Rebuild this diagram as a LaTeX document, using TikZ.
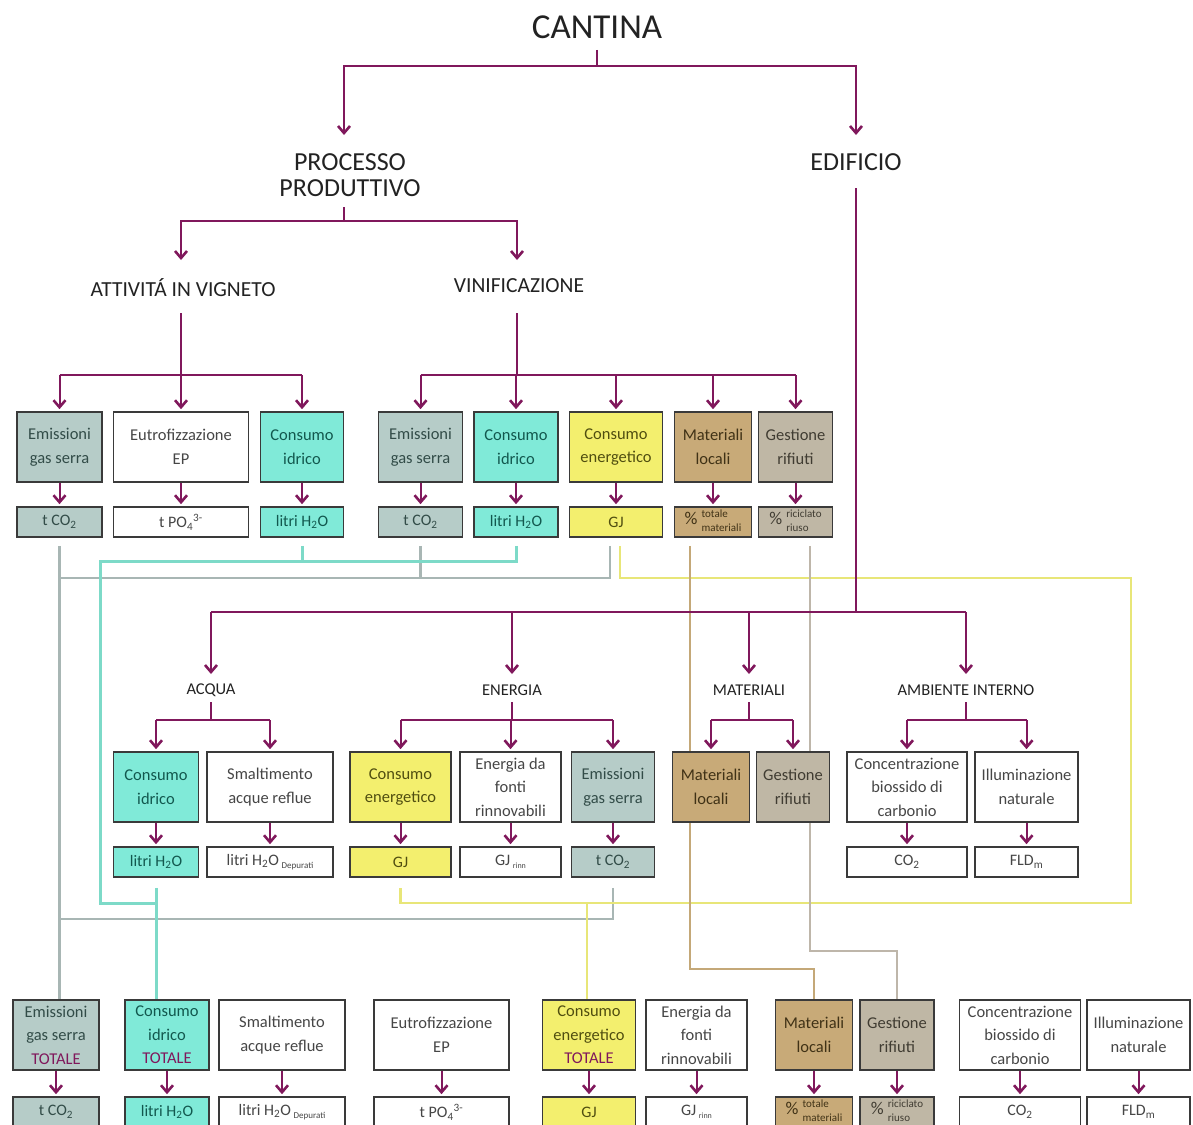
\documentclass[tikz,border=0pt]{standalone}
\usepackage{fontspec}
\setmainfont{Carlito}
\usetikzlibrary{arrows.meta,calc}
\pgfdeclarelayer{bg}
\pgfsetlayers{bg,main}
\definecolor{purp}{RGB}{128,24,92}
\definecolor{gfill}{RGB}{182,204,200}
\definecolor{gtext}{RGB}{50,76,72}
\definecolor{cfill}{RGB}{128,234,216}
\definecolor{ctext}{RGB}{18,88,78}
\definecolor{yfill}{RGB}{243,239,110}
\definecolor{ytext}{RGB}{80,78,16}
\definecolor{tfill}{RGB}{200,170,120}
\definecolor{ttext}{RGB}{64,50,22}
\definecolor{bfill}{RGB}{191,183,165}
\definecolor{btext}{RGB}{64,60,50}
\definecolor{wtext}{RGB}{70,70,70}
\definecolor{edgec}{RGB}{58,58,58}
\definecolor{labc}{RGB}{34,34,34}
\definecolor{lgrey}{RGB}{168,182,180}
\definecolor{lcyan}{RGB}{125,218,200}
\definecolor{lyel}{RGB}{232,230,120}
\definecolor{ltan}{RGB}{196,168,120}
\definecolor{lgb}{RGB}{190,182,170}
\newcommand\pctlab[2]{{\fontsize{18}{18}\selectfont\%}\hspace{4pt}{\fontsize{11}{14}\selectfont\begin{tabular}{@{}l@{}}#1\\#2\end{tabular}}}
\newcommand\mkbox[7]{\node[#6, minimum width=#4pt, minimum height=#5pt] (#1) at (#2,#3) {#7};}
\begin{document}
\begin{tikzpicture}[x=1pt,y=-1pt,
  box/.style={draw=edgec, line width=1.6pt, inner sep=0pt, align=center, font=\fontsize{16.5}{23.5}\selectfont},
  gbox/.style={box, fill=gfill, text=gtext},
  cbox/.style={box, fill=cfill, text=ctext},
  ybox/.style={box, fill=yfill, text=ytext},
  tbox/.style={box, fill=tfill, text=ttext},
  bbox/.style={box, fill=bfill, text=btext},
  wbox/.style={box, fill=white, text=wtext},
  unit/.style={font=\fontsize{16}{18}\selectfont},
  lab/.style={inner sep=0pt, text=labc, align=center},
  pline/.style={draw=purp, line width=2pt},
  parr/.style={pline, -{Straight Barb[length=7pt,width=12pt,line width=2.6pt]}, shorten >=2pt},
  gline/.style={draw=lgrey, line width=2.2pt},
  cline/.style={draw=lcyan, line width=3pt},
  yline/.style={draw=lyel, line width=2.5pt},
  tline/.style={draw=ltan, line width=1.6pt},
  bline/.style={draw=lgb, line width=1.6pt}]
\useasboundingbox (0,0) rectangle (1193,1124);
\clip (0,0) rectangle (1193,1124);

% labels
\node[lab, font=\fontsize{35}{36}\selectfont] (cantina) at (597,27) {CANTINA};
\node[lab, font=\fontsize{26}{26}\selectfont] (proc) at (350,175) {PROCESSO\\PRODUTTIVO};
\node[lab, font=\fontsize{26}{26}\selectfont] (edif) at (856,162) {EDIFICIO};
\node[lab, font=\fontsize{21.5}{22}\selectfont] (avig) at (183,288) {ATTIVITÁ IN VIGNETO};
\node[lab, font=\fontsize{21.5}{22}\selectfont] (vinif) at (519,286) {VINIFICAZIONE};
\node[lab, font=\fontsize{16.5}{18}\selectfont] (acqua) at (211,690) {ACQUA};
\node[lab, font=\fontsize{16.5}{18}\selectfont] (energia) at (512,690) {ENERGIA};
\node[lab, font=\fontsize{16.5}{18}\selectfont] (mater) at (749,690) {MATERIALI};
\node[lab, font=\fontsize{16.5}{18}\selectfont] (amb) at (966,690) {AMBIENTE INTERNO};

% row 1
\mkbox{r1a}{59.5}{447}{85}{70}{gbox}{Emissioni\\gas serra}
\mkbox{r1b}{181}{447}{135}{70}{wbox}{Eutrofizzazione\\EP}
\mkbox{r1c}{302}{447}{83}{70}{cbox}{Consumo\\idrico}
\mkbox{r1d}{420.5}{447}{84}{70}{gbox}{Emissioni\\gas serra}
\mkbox{r1e}{516}{447}{84}{70}{cbox}{Consumo\\idrico}
\mkbox{r1f}{616}{447}{93}{70}{ybox}{Consumo\\energetico}
\mkbox{r1g}{713}{447}{77}{70}{tbox}{Materiali\\locali}
\mkbox{r1h}{795.5}{447}{74}{70}{bbox}{Gestione\\rifiuti}
\mkbox{u1a}{59.5}{522}{85}{30}{gbox,unit}{t CO\textsubscript{2}}
\mkbox{u1b}{181}{522}{135}{30}{wbox,unit}{t PO\textsubscript{4}\textsuperscript{3-}}
\mkbox{u1c}{302}{522}{83}{30}{cbox,unit}{litri H\textsubscript{2}O}
\mkbox{u1d}{420.5}{522}{84}{30}{gbox,unit}{t CO\textsubscript{2}}
\mkbox{u1e}{516}{522}{84}{30}{cbox,unit}{litri H\textsubscript{2}O}
\mkbox{u1f}{616}{522}{93}{30}{ybox,unit}{GJ}
\mkbox{u1g}{713}{522}{77}{30}{tbox,unit}{\pctlab{totale}{materiali}}
\mkbox{u1h}{795.5}{522}{74}{30}{bbox,unit}{\pctlab{riciclato}{riuso}}

% row 2
\mkbox{r2a}{156}{787}{85}{70}{cbox}{Consumo\\idrico}
\mkbox{r2b}{270}{787}{126}{70}{wbox}{Smaltimento\\acque reflue}
\mkbox{r2c}{400.5}{787}{101}{70}{ybox}{Consumo\\energetico}
\mkbox{r2d}{510.5}{787}{101}{70}{wbox}{Energia da\\fonti\\rinnovabili}
\mkbox{r2e}{613}{787}{83}{70}{gbox}{Emissioni\\gas serra}
\mkbox{r2f}{711}{787}{77}{70}{tbox}{Materiali\\locali}
\mkbox{r2g}{793}{787}{73}{70}{bbox}{Gestione\\rifiuti}
\mkbox{r2h}{907}{787}{120}{70}{wbox}{Concentrazione\\biossido di\\carbonio}
\mkbox{r2i}{1026.5}{787}{103}{70}{wbox}{Illuminazione\\naturale}
\mkbox{u2a}{156}{862}{85}{30}{cbox,unit}{litri H\textsubscript{2}O}
\mkbox{u2b}{270}{862}{126}{30}{wbox,unit}{litri H\textsubscript{2}O\,{\fontsize{9}{9}\selectfont\raisebox{-3pt}{Depurati}}}
\mkbox{u2c}{400.5}{862}{101}{30}{ybox,unit}{GJ}
\mkbox{u2d}{510.5}{862}{101}{30}{wbox,unit}{GJ\,{\fontsize{8}{8}\selectfont\raisebox{-3pt}{rinn}}}
\mkbox{u2e}{613}{862}{83}{30}{gbox,unit}{t CO\textsubscript{2}}
\mkbox{u2h}{907}{862}{120}{30}{wbox,unit}{CO\textsubscript{2}}
\mkbox{u2i}{1026.5}{862}{103}{30}{wbox,unit}{FLD\textsubscript{m}}

% row 3
\mkbox{r3a}{56}{1035}{86}{70}{gbox}{Emissioni\\gas serra\\{\color{purp}TOTALE}}
\mkbox{r3b}{167}{1035}{84}{70}{cbox}{Consumo\\idrico\\{\color{purp}TOTALE}}
\mkbox{r3c}{282}{1035}{126}{70}{wbox}{Smaltimento\\acque reflue}
\mkbox{r3d}{441.5}{1035}{135}{70}{wbox}{Eutrofizzazione\\EP}
\mkbox{r3e}{589}{1035}{93}{70}{ybox}{Consumo\\energetico\\{\color{purp}TOTALE}}
\mkbox{r3f}{696.5}{1035}{101}{70}{wbox}{Energia da\\fonti\\rinnovabili}
\mkbox{r3g}{814}{1035}{77}{70}{tbox}{Materiali\\locali}
\mkbox{r3h}{897}{1035}{74}{70}{bbox}{Gestione\\rifiuti}
\mkbox{r3i}{1020}{1035}{121}{70}{wbox}{Concentrazione\\biossido di\\carbonio}
\mkbox{r3j}{1138.5}{1035}{103}{70}{wbox}{Illuminazione\\naturale}
\mkbox{u3a}{56}{1112}{86}{30}{gbox,unit}{t CO\textsubscript{2}}
\mkbox{u3b}{167}{1112}{84}{30}{cbox,unit}{litri H\textsubscript{2}O}
\mkbox{u3c}{282}{1112}{126}{30}{wbox,unit}{litri H\textsubscript{2}O\,{\fontsize{9}{9}\selectfont\raisebox{-3pt}{Depurati}}}
\mkbox{u3d}{441.5}{1112}{135}{30}{wbox,unit}{t PO\textsubscript{4}\textsuperscript{3-}}
\mkbox{u3e}{589}{1112}{93}{30}{ybox,unit}{GJ}
\mkbox{u3f}{696.5}{1112}{101}{30}{wbox,unit}{GJ\,{\fontsize{8}{8}\selectfont\raisebox{-3pt}{rinn}}}
\mkbox{u3g}{814}{1112}{77}{30}{tbox,unit}{\pctlab{totale}{materiali}}
\mkbox{u3h}{897}{1112}{74}{30}{bbox,unit}{\pctlab{riciclato}{riuso}}
\mkbox{u3i}{1020}{1112}{121}{30}{wbox,unit}{CO\textsubscript{2}}
\mkbox{u3j}{1138.5}{1112}{103}{30}{wbox,unit}{FLD\textsubscript{m}}

% purple tree
\coordinate (j0) at (597,66);
\draw[pline] ($(cantina)+(0,23)$) -- (j0);
\draw[parr] (j0) -| ($(proc)+(-6,-38)$);
\draw[parr] (j0) -| ($(edif)+(0,-25)$);
\coordinate (j1) at (344,221);
\draw[pline] ($(proc)+(-6,32)$) -- (j1);
\draw[parr] (j1) -| ($(avig)+(-2,-26)$);
\draw[parr] (j1) -| ($(vinif)+(-2,-24)$);
\coordinate (j2) at (181,375);
\draw[pline] ($(avig)+(-2,25)$) -- (j2);
\draw[pline] (r1a.north |- j2) -- (r1c.north |- j2);
\foreach \n in {r1a,r1b,r1c} \draw[parr] (\n.north |- j2) -- (\n.north);
\coordinate (j3) at (517,375);
\draw[pline] ($(vinif)+(-2,27)$) -- (j3);
\draw[pline] (r1d.north |- j3) -- (r1h.north |- j3);
\foreach \n in {r1d,r1e,r1f,r1g,r1h} \draw[parr] (\n.north |- j3) -- (\n.north);
\foreach \a/\b in {r1a/u1a,r1b/u1b,r1c/u1c,r1d/u1d,r1e/u1e,r1f/u1f,r1g/u1g,r1h/u1h}
  \draw[parr] (\a.south) -- (\b.north);

\coordinate (j4) at (856,612);
\draw[pline] ($(edif)+(0,26)$) -- (j4);
\draw[pline] (acqua |- j4) -- (amb |- j4);
\foreach \n in {acqua,energia,mater,amb} \draw[parr] (\n |- j4) -- ($(\n)+(0,-14)$);
\draw[pline] ($(acqua)+(0,12)$) -- ($(acqua)+(0,30)$) coordinate (j5);
\draw[pline] (r2a.north |- j5) -- (r2b.north |- j5);
\foreach \n in {r2a,r2b} \draw[parr] (\n.north |- j5) -- (\n.north);
\draw[pline] ($(energia)+(0,12)$) -- ($(energia)+(0,30)$) coordinate (j6);
\draw[pline] (r2c.north |- j6) -- (r2e.north |- j6);
\foreach \n in {r2c,r2d,r2e} \draw[parr] (\n.north |- j6) -- (\n.north);
\draw[pline] ($(mater)+(0,12)$) -- ($(mater)+(0,30)$) coordinate (j7);
\draw[pline] (r2f.north |- j7) -- (r2g.north |- j7);
\foreach \n in {r2f,r2g} \draw[parr] (\n.north |- j7) -- (\n.north);
\draw[pline] ($(amb)+(0,12)$) -- ($(amb)+(0,30)$) coordinate (j8);
\draw[pline] (r2h.north |- j8) -- (r2i.north |- j8);
\foreach \n in {r2h,r2i} \draw[parr] (\n.north |- j8) -- (\n.north);
\foreach \a/\b in {r2a/u2a,r2b/u2b,r2c/u2c,r2d/u2d,r2e/u2e,r2h/u2h,r2i/u2i}
  \draw[parr] (\a.south) -- (\b.north);
\foreach \a/\b in {r3a/u3a,r3b/u3b,r3c/u3c,r3d/u3d,r3e/u3e,r3f/u3f,r3g/u3g,r3h/u3h,r3i/u3i,r3j/u3j}
  \draw[parr] (\a.south) -- (\b.north);

% coloured connectors
\begin{pgfonlayer}{bg}
\coordinate (g1) at (59.5,578);
\coordinate (g2) at (59.5,919);
\draw[gline] ($(u1a.south)+(0,8)$) -- (u1a.south |- r3a.north);
\draw[gline] ($(u1d.south)+(0,8)$) |- (g1);
\draw[gline] ($(u1f.south)+(-6,8)$) |- (u1d.south |- g1);
\draw[gline] ($(u2e.south)+(0,10)$) |- (g2);
\coordinate (c1) at (100,561);
\coordinate (c2) at (100,903);
\draw[cline] ($(u1e.south)+(0,8)$) |- (c1) -- (c2) -- (c2 -| u2a.south);
\draw[cline] ($(u1c.south)+(0,8)$) -- (u1c.south |- c1);
\draw[cline] ($(u2a.south)+(0,10)$) -- (u2a.south |- r3b.north);
\coordinate (y1) at (1131,578);
\coordinate (y2) at (1131,903);
\coordinate (y3) at (587,903);
\draw[yline] ($(u1f.south)+(4,8)$) |- (y1) -- (y2) -| ($(u2c.south)+(0,10)$);
\draw[yline] (y3) -- (y3 |- r3e.north);
\draw[tline] ($(u1g.south)+(-23,8)$) |- ($(r3g.north)+(0,-30)$) -- (r3g.north);
\draw[bline] ($(u1h.south)+(14.5,8)$) |- ($(r3h.north)+(0,-48)$) -- (r3h.north);
\end{pgfonlayer}
\end{tikzpicture}
\end{document}
